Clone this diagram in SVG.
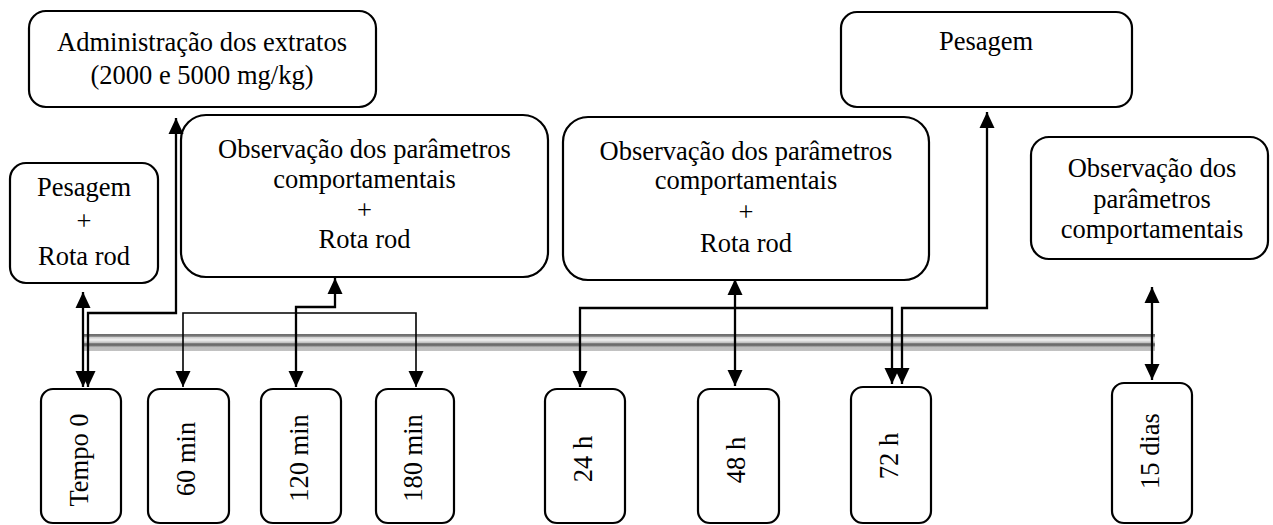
<svg xmlns="http://www.w3.org/2000/svg" width="1273" height="525" viewBox="0 0 1273 525">
<style>
.box{fill:#fff;stroke:#000;stroke-width:2.2}
.t{font-family:"Liberation Serif","Times New Roman",serif;font-size:26.5px;fill:#000;text-anchor:middle}
.c{fill:none;stroke:#000;stroke-width:2.3;marker-start:url(#ah);marker-end:url(#ah)}
.thin{stroke-width:1.6}
</style>
<defs>
<marker id="ah" viewBox="0 0 16 16" refX="16" refY="8" markerWidth="16" markerHeight="16" markerUnits="userSpaceOnUse" orient="auto-start-reverse">
<path d="M0,0.5 L16,8 L0,15.5 Z" fill="#000"/>
</marker>
<linearGradient id="bar" x1="0" y1="0" x2="0" y2="1">
<stop offset="0" stop-color="#6a6a6a"/>
<stop offset="0.13" stop-color="#7a7a7a"/>
<stop offset="0.2" stop-color="#d0d0d0"/>
<stop offset="0.35" stop-color="#f2f2f2"/>
<stop offset="0.5" stop-color="#c4c4c4"/>
<stop offset="0.58" stop-color="#666"/>
<stop offset="0.7" stop-color="#777"/>
<stop offset="0.76" stop-color="#bdbdbd"/>
<stop offset="1" stop-color="#c2c2c2"/>
</linearGradient>
</defs>
<rect x="82" y="334" width="1073" height="17" fill="url(#bar)"/>

<g id="admin"><rect class="box" x="29" y="11" width="347" height="96" rx="17"/>
<text class="t" x="202" y="51">Administração dos extratos</text>
<text class="t" x="202" y="84">(2000 e 5000 mg/kg)</text></g>

<g id="pesagem0"><rect class="box" x="10" y="163" width="148" height="120" rx="16"/>
<text class="t" x="84" y="196">Pesagem</text>
<text class="t" x="84" y="230">+</text>
<text class="t" x="84" y="265">Rota rod</text></g>

<g id="obs1"><rect class="box" x="181" y="115" width="367" height="162" rx="25"/>
<text class="t" x="364.5" y="158">Observação dos parâmetros</text>
<text class="t" x="364.5" y="188">comportamentais</text>
<text class="t" x="364.5" y="219">+</text>
<text class="t" x="364.5" y="248">Rota rod</text></g>

<g id="obs2"><rect class="box" x="563" y="117" width="366" height="163" rx="25"/>
<text class="t" x="746" y="160">Observação dos parâmetros</text>
<text class="t" x="746" y="189">comportamentais</text>
<text class="t" x="746" y="221">+</text>
<text class="t" x="746" y="252">Rota rod</text></g>

<g id="pesagem72"><rect class="box" x="841" y="12" width="291" height="95" rx="16"/>
<text class="t" x="986" y="50">Pesagem</text></g>

<g id="obs3"><rect class="box" x="1031" y="137" width="237" height="122" rx="18"/>
<text class="t" x="1152" y="177">Observação dos</text>
<text class="t" x="1152" y="208">parâmetros</text>
<text class="t" x="1152" y="238">comportamentais</text></g>

<g id="t0"><rect class="box" x="41" y="389" width="80" height="134" rx="12"/>
<text class="t" transform="translate(87.5,460) rotate(-90)">Tempo 0</text></g>
<g id="t60"><rect class="box" x="148" y="389" width="81" height="134" rx="12"/>
<text class="t" transform="translate(195,459) rotate(-90)">60 min</text></g>
<g id="t120"><rect class="box" x="261" y="389" width="80" height="134" rx="12"/>
<text class="t" transform="translate(307.5,458) rotate(-90)">120 min</text></g>
<g id="t180"><rect class="box" x="376" y="389" width="78" height="134" rx="12"/>
<text class="t" transform="translate(421.5,458) rotate(-90)">180 min</text></g>
<g id="t24"><rect class="box" x="545" y="389" width="80" height="134" rx="12"/>
<text class="t" transform="translate(591.5,459) rotate(-90)">24 h</text></g>
<g id="t48"><rect class="box" x="698" y="389" width="81" height="134" rx="12"/>
<text class="t" transform="translate(745,460) rotate(-90)">48 h</text></g>
<g id="t72"><rect class="box" x="851" y="387" width="80" height="136" rx="12"/>
<text class="t" transform="translate(897.5,456) rotate(-90)">72 h</text></g>
<g id="t15"><rect class="box" x="1112" y="383" width="80" height="140" rx="12"/>
<text class="t" transform="translate(1158.5,451) rotate(-90)">15 dias</text></g>

<g id="connectors">
<path class="c" d="M83,292 L83,387"/>
<path class="c" d="M176,118 L176,313 L88,313 L88,387"/>
<path class="c thin" d="M183,387 L183,313 L416,313 L416,387"/>
<path class="c" d="M335,278 L335,307 L296,307 L296,387"/>
<path class="c" d="M580,387 L580,308 L892,308 L892,384"/>
<path class="c" d="M735,279 L735,386"/>
<path class="c" d="M987,112 L987,308 L902,308 L902,384"/>
<path class="c" d="M1152,287 L1152,380"/>
</g>
</svg>
